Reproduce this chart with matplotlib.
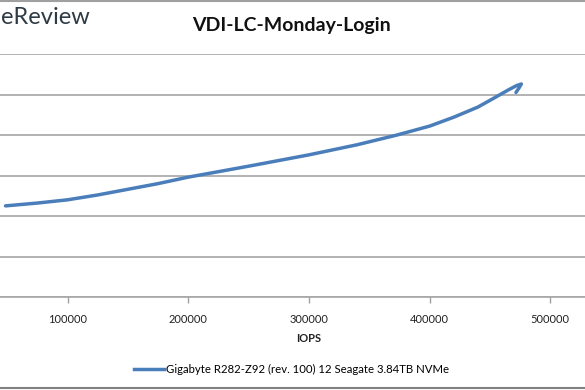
import matplotlib
matplotlib.use("Agg")
import matplotlib.pyplot as plt
from matplotlib.lines import Line2D

title = "VDI-LC-Monday-Login"
xlabel = "IOPS"
series_name = "Gigabyte R282-Z92 (rev. 100) 12 Seagate 3.84TB NVMe"
iops = [48500, 75000, 100000, 125000, 150000, 175000, 200000, 250000, 300000,
        340000, 373000, 400000, 420000, 440000, 455000, 465000, 472000, 476000,
        474000, 471500]
latency = [2.25, 2.32, 2.40, 2.52, 2.66, 2.80, 2.96, 3.23, 3.51, 3.76, 4.00,
           4.22, 4.44, 4.69, 4.94, 5.11, 5.22, 5.26, 5.16, 5.05]
xticks = [100000, 200000, 300000, 400000, 500000]
yticks = [0, 1, 2, 3, 4, 5, 6]

plt.rcParams['font.family'] = ['Lato', 'DejaVu Sans']
W, H = 585, 390
fig = plt.figure(figsize=(W / 100, H / 100), dpi=100)

# axes area: x=0 at -53px, 600000 at 671px ; y from 297px to 54px
left = -53 / W
width = 724 / W
bottom = (H - 297) / H
height = (297 - 54) / H
ax = fig.add_axes([left, bottom, width, height])
ax.set_xlim(0, 600000)
ax.set_ylim(0, 6)

color = '#4a7ebb'
ax.plot(iops, latency, color=color, lw=2.5, solid_capstyle='round',
        solid_joinstyle='round')

ax.set_xticks(xticks)
ax.set_xticklabels([str(v) for v in xticks], fontsize=8, color='#222222')
ax.set_yticks(yticks)
ax.set_yticklabels([])
ax.tick_params(axis='x', length=4, width=1, color='#a0a0a0', pad=8, direction='out')
ax.tick_params(axis='y', length=0)
ax.grid(axis='y', color='#a6a6a6', lw=1.2)
ax.set_axisbelow(True)
for s in ['left', 'right', 'top']:
    ax.spines[s].set_visible(False)
ax.spines['bottom'].set_color('#a6a6a6')
ax.spines['bottom'].set_linewidth(1.2)

ax.set_xlabel(xlabel, fontsize=8, fontweight='bold', color='#222222', labelpad=6)

fig.text(291 / W, 1 - 25 / H, title, ha='center', va='center', fontsize=14,
         fontweight='bold', color='#111111')
fig.text(1 / W, 1 - 18 / H, "eReview", ha='left', va='center',
         fontsize=17, color='#2e3b45')

handle = Line2D([0], [0], color=color, lw=2.5)
fig.legend([handle], [series_name], loc='center', bbox_to_anchor=(292 / W, 1 - 369 / H),
           frameon=False, fontsize=8.2, handlelength=2.6, handletextpad=0.2)

# frame lines
fig.add_artist(Line2D([0, 1], [1 - 1 / H, 1 - 1 / H], transform=fig.transFigure,
                      color='#a0a0a0', lw=1.5))
fig.add_artist(Line2D([0, 1], [2 / H, 2 / H], transform=fig.transFigure,
                      color='#808080', lw=1.5))

fig.savefig('out.png', dpi=100)
